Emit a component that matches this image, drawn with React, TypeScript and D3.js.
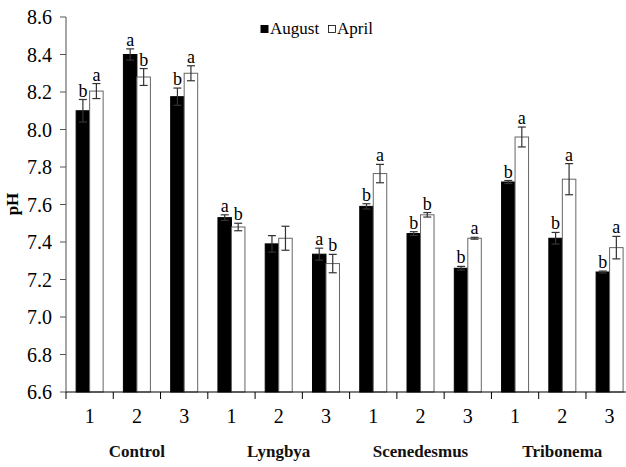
import * as d3 from 'd3';

const groups = ['Control', 'Lyngbya', 'Scenedesmus', 'Tribonema'];
const reps = ['1', '2', '3'];
const august = [8.1, 8.4, 8.175, 7.53, 7.39, 7.335, 7.59, 7.445, 7.26, 7.72, 7.42, 7.24];
const augustErr = [0.06, 0.03, 0.046, 0.015, 0.044, 0.032, 0.014, 0.01, 0.01, 0.008, 0.031, 0.005];
const april = [8.205, 8.28, 8.3, 7.48, 7.42, 7.285, 7.765, 7.545, 7.42, 7.96, 7.735, 7.37];
const aprilErr = [0.04, 0.045, 0.04, 0.02, 0.064, 0.049, 0.049, 0.012, 0.005, 0.053, 0.083, 0.06];
const augustLetters = ['b', 'a', 'b', 'a', '', 'a', 'b', 'b', 'b', 'b', 'b', 'b'];
const aprilLetters = ['a', 'b', 'a', 'b', '', 'b', 'a', 'b', 'a', 'a', 'a', 'a'];
const yTicks = [6.6, 6.8, 7.0, 7.2, 7.4, 7.6, 7.8, 8.0, 8.2, 8.4, 8.6];

const W = 626;
const H = 467;
const font = '"Liberation Serif", "DejaVu Serif", serif';

export default function App() {
  const left = 66;
  const bandW = 47.27;
  const top = 17;
  const bottom = 392;
  const barW = 13.5;

  const slots = d3.range(groups.length * reps.length);
  const x = d3.scaleBand<number>()
    .domain(slots)
    .range([left, left + slots.length * bandW])
    .padding(0);
  const y = d3.scaleLinear().domain([6.6, 8.6]).range([bottom, top]);

  const series = [
    { vals: august, err: augustErr, letters: augustLetters, fill: '#000', stroke: '#000', dx: -barW },
    { vals: april, err: aprilErr, letters: aprilLetters, fill: '#fff', stroke: '#666', dx: 0 },
  ];

  return (
    <svg width={W} height={H}
      style={{ position: 'absolute', left: 0, top: 0, background: '#fff', fontFamily: font }}>
      {/* bars */}
      {series.map((s, si) =>
        slots.map(i => {
          const cx = x(i)! + x.bandwidth() / 2 + s.dx;
          return (
            <rect key={`b${si}-${i}`} x={cx} y={y(s.vals[i])} width={barW}
              height={bottom - y(s.vals[i])} fill={s.fill} stroke={s.stroke} strokeWidth={1} />
          );
        })
      )}
      {/* error bars */}
      {series.map((s, si) =>
        slots.map(i => {
          const cx = x(i)! + x.bandwidth() / 2 + s.dx + barW / 2;
          const y1 = y(s.vals[i] + s.err[i]);
          const y0 = y(s.vals[i] - s.err[i]);
          return (
            <g key={`e${si}-${i}`} stroke="#333" strokeWidth={1.2}>
              <line x1={cx} x2={cx} y1={y1} y2={y0} />
              <line x1={cx - 4} x2={cx + 4} y1={y1} y2={y1} />
              <line x1={cx - 4} x2={cx + 4} y1={y0} y2={y0} />
            </g>
          );
        })
      )}
      {/* significance letters */}
      {series.map((s, si) =>
        slots.map(i => {
          if (!s.letters[i]) return null;
          const cx = x(i)! + x.bandwidth() / 2 + s.dx + barW / 2;
          return (
            <text key={`l${si}-${i}`} x={cx} y={y(s.vals[i] + s.err[i]) - 3}
              textAnchor="middle" fontSize={18} fill="#000">{s.letters[i]}</text>
          );
        })
      )}
      {/* y axis */}
      <line x1={left} x2={left} y1={top} y2={bottom} stroke="#888" strokeWidth={1.5} />
      {yTicks.map(t => (
        <g key={`yt${t}`}>
          <line x1={left - 6} x2={left} y1={y(t)} y2={y(t)} stroke="#555" />
          <text x={left - 14} y={y(t)} dy="0.35em" textAnchor="end" fontSize={20} fill="#000">
            {t.toFixed(1)}
          </text>
        </g>
      ))}
      <text transform={`translate(18, 204) rotate(-90)`} textAnchor="middle" fontSize={17}
        fontWeight="bold" fill="#000">pH</text>
      {/* x axis */}
      <line x1={left} x2={W} y1={bottom} y2={bottom} stroke="#000" strokeWidth={1.2} />
      {slots.map(i => (
        <line key={`xt${i}`} x1={x(i)!} x2={x(i)!} y1={bottom} y2={bottom + 7} stroke="#000" />
      ))}
      {slots.map(i => (
        <text key={`xl${i}`} x={x(i)! + x.bandwidth() / 2} y={423} textAnchor="middle" fontSize={20}
          fill="#000">{reps[i % reps.length]}</text>
      ))}
      {groups.map((g, gi) => (
        <text key={`g${g}`} x={x(gi * reps.length + 1)! + x.bandwidth() / 2} y={457} textAnchor="middle"
          fontSize={17} fontWeight="bold" fill="#111">{g}</text>
      ))}
      {/* legend */}
      <rect x={260.5} y={25} width={8} height={8} fill="#000" />
      <text x={270} y={34} fontSize={17} fill="#000">August</text>
      <rect x={328.5} y={25.5} width={7} height={7} fill="#fff" stroke="#000" strokeWidth={0.8} />
      <text x={337} y={34} fontSize={17} fill="#000">April</text>
    </svg>
  );
}
